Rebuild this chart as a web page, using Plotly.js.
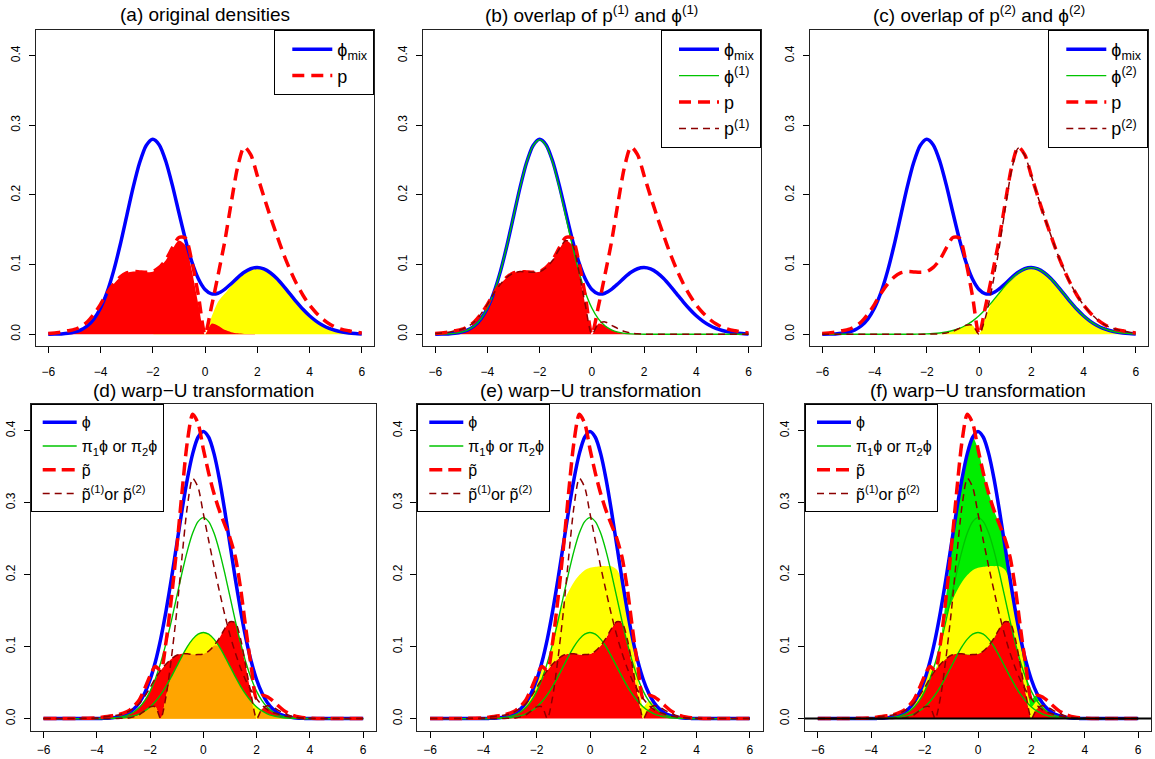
<!DOCTYPE html>
<html><head><meta charset="utf-8">
<script src="https://cdn.plot.ly/plotly-3.0.1.min.js"></script>
<style>body{margin:0;background:#fff;} #chart{width:1155px;height:759px;}</style>
</head><body><div id="chart"></div>
<script>
// ---------- top row data (original space) ----------
const xTop = [-6,-5.75,-5.5,-5.25,-5,-4.75,-4.5,-4.25,-4,-3.75,-3.5,-3.25,-3,-2.75,-2.5,-2.25,-2,-1.75,-1.5,-1.25,-1,-0.75,-0.5,-0.25,0,0.25,0.5,0.75,1,1.25,1.5,1.75,2,2.25,2.5,2.75,3,3.25,3.5,3.75,4,4.25,4.5,4.75,5,5.25,5.5,5.75,6];
const phiMix = [0.0001,0.0003,0.0006,0.0014,0.0031,0.0064,0.0123,0.0222,0.0378,0.0604,0.0907,0.1278,0.1694,0.2108,0.2465,0.2710,0.2799,0.2718,0.2484,0.2141,0.1748,0.1363,0.1037,0.0794,0.0644,0.0581,0.0589,0.0645,0.0726,0.0814,0.0890,0.0941,0.0958,0.0938,0.0884,0.0800,0.0695,0.0581,0.0466,0.0359,0.0266,0.0190,0.0130,0.0085,0.0054,0.0033,0.0019,0.0011,0.0006];
const phi1 = [0.0001,0.0003,0.0006,0.0014,0.0031,0.0064,0.0123,0.0222,0.0378,0.0604,0.0907,0.1278,0.1694,0.2108,0.2465,0.2707,0.2793,0.2707,0.2465,0.2108,0.1694,0.1278,0.0907,0.0604,0.0378,0.0222,0.0123,0.0064,0.0031,0.0014,0.0006,0.0003,0.0001,0,0,0,0,0,0,0,0,0,0,0,0,0,0,0,0];
const phi2 = [0,0,0,0,0,0,0,0,0,0,0,0,0,0,0.0001,0.0003,0.0006,0.0011,0.0019,0.0033,0.0054,0.0085,0.0130,0.0190,0.0266,0.0359,0.0466,0.0581,0.0695,0.0800,0.0884,0.0938,0.0957,0.0938,0.0884,0.0800,0.0695,0.0581,0.0466,0.0359,0.0266,0.0190,0.0130,0.0085,0.0054,0.0033,0.0019,0.0011,0.0006];
const pDens = [0.001,0.002,0.003,0.005,0.007,0.011,0.018,0.029,0.043,0.059,0.072,0.082,0.088,0.090,0.0895,0.089,0.090,0.096,0.107,0.124,0.139,0.138,0.104,0.055,0,0.040,0.085,0.132,0.188,0.240,0.269,0.258,0.228,0.198,0.169,0.142,0.116,0.093,0.073,0.056,0.042,0.031,0.022,0.015,0.010,0.007,0.005,0.003,0.002];
const p1 = [0.001,0.002,0.003,0.005,0.007,0.011,0.018,0.029,0.043,0.059,0.072,0.082,0.088,0.090,0.0895,0.089,0.0898,0.0956,0.1062,0.1221,0.1347,0.1294,0.0910,0.0419,0,0.0153,0.0178,0.0131,0.0081,0.0041,0.0019,0.0007,0.0002,0,0,0,0,0,0,0,0,0,0,0,0,0,0,0,0];
const p2 = [0,0,0,0,0,0,0,0,0,0,0,0,0,0,0,0.0001,0.0002,0.0004,0.0008,0.0019,0.0043,0.0086,0.0130,0.0131,0,0.0247,0.0672,0.1189,0.1799,0.2359,0.2671,0.2572,0.2278,0.198,0.169,0.142,0.116,0.093,0.073,0.056,0.042,0.031,0.022,0.015,0.010,0.007,0.005,0.003,0.002];
const overlap1 = [0.0001,0.0003,0.0006,0.0014,0.0031,0.0064,0.0123,0.0222,0.0378,0.059,0.072,0.082,0.088,0.090,0.0895,0.089,0.0898,0.0956,0.1062,0.1221,0.1347,0.1278,0.0907,0.0419,0,0.0153,0.0123,0.0064,0.0031,0.0014,0.0006,0.0003,0.0001,0,0,0,0,0,0,0,0,0,0,0,0,0,0,0,0];
const overlap2 = [0,0,0,0,0,0,0,0,0,0,0,0,0,0,0,0.0001,0.0002,0.0004,0.0008,0.0019,0.0043,0.0085,0.0130,0.0131,0,0.0247,0.0466,0.0581,0.0695,0.0800,0.0884,0.0938,0.0957,0.0938,0.0884,0.0800,0.0695,0.0581,0.0466,0.0359,0.0266,0.0190,0.0130,0.0085,0.0054,0.0033,0.0019,0.0011,0.0006];

// ---------- bottom row data (warped space) ----------
const xBot = [-6,-5.5,-5,-4.5,-4,-3.8,-3.6,-3.4,-3.2,-3,-2.8,-2.6,-2.4,-2.2,-2,-1.8,-1.6,-1.4,-1.2,-1,-0.8,-0.6,-0.4,-0.2,0,0.2,0.4,0.6,0.8,1,1.2,1.4,1.6,1.8,2,2.2,2.4,2.6,2.8,3,3.2,3.4,3.6,3.8,4,4.5,5,5.5,6];
const phiStd = [0,0,0,0,0.0001,0.0003,0.0006,0.0012,0.0024,0.0044,0.0079,0.0136,0.0224,0.0355,0.0540,0.0790,0.1109,0.1497,0.1942,0.2420,0.2897,0.3332,0.3683,0.3910,0.3989,0.3910,0.3683,0.3332,0.2897,0.2420,0.1942,0.1497,0.1109,0.0790,0.0540,0.0355,0.0224,0.0136,0.0079,0.0044,0.0024,0.0012,0.0006,0.0003,0.0001,0,0,0,0];
const pi1phi = [0,0,0,0,0.0001,0.0002,0.0004,0.0008,0.0017,0.0031,0.0055,0.0095,0.0157,0.0249,0.0378,0.0553,0.0776,0.1048,0.1359,0.1694,0.2028,0.2332,0.2578,0.2737,0.2793,0.2737,0.2578,0.2332,0.2028,0.1694,0.1359,0.1048,0.0776,0.0553,0.0378,0.0249,0.0157,0.0095,0.0055,0.0031,0.0017,0.0008,0.0004,0.0002,0.0001,0,0,0,0];
const pi2phi = [0,0,0,0,0,0.0001,0.0002,0.0004,0.0007,0.0013,0.0024,0.0041,0.0067,0.0107,0.0162,0.0237,0.0333,0.0449,0.0583,0.0726,0.0869,0.1000,0.1105,0.1173,0.1197,0.1173,0.1105,0.1000,0.0869,0.0726,0.0583,0.0449,0.0333,0.0237,0.0162,0.0107,0.0067,0.0041,0.0024,0.0013,0.0007,0.0004,0.0002,0.0001,0,0,0,0,0];
const pTilde = [0,0,0.0001,0.0004,0.001,0.002,0.003,0.0041,0.0053,0.0075,0.011,0.0174,0.0264,0.0418,0.0593,0.0724,0.067,0.1069,0.167,0.2366,0.3149,0.3849,0.4229,0.4105,0.3746,0.3412,0.3127,0.2893,0.2698,0.251,0.2246,0.1804,0.1236,0.0709,0.0275,0.0323,0.0304,0.025,0.0182,0.0119,0.0074,0.0042,0.0023,0.0011,0.0006,0.0001,0,0,0];
const pTilde1 = [0,0,0.0001,0.0004,0.001,0.002,0.003,0.004,0.005,0.007,0.010,0.015,0.021,0.031,0.043,0.056,0.067,0.076,0.083,0.088,0.090,0.090,0.089,0.089,0.0898,0.0937,0.1014,0.1118,0.1248,0.1347,0.1333,0.1104,0.0711,0.0321,0,0.0135,0.0179,0.0162,0.0119,0.0081,0.0049,0.0026,0.0013,0.0005,0.0002,0,0,0,0];
const pTilde2 = [0,0,0,0,0,0,0,0.0001,0.0003,0.0005,0.0010,0.0024,0.0054,0.0108,0.0163,0.0164,0,0.0309,0.0840,0.1486,0.2249,0.2949,0.3339,0.3215,0.2848,0.2475,0.2113,0.1775,0.1450,0.1163,0.0913,0.0700,0.0525,0.0388,0.0275,0.0188,0.0125,0.0088,0.0063,0.0038,0.0025,0.0016,0.0010,0.0006,0.0004,0.0001,0,0,0];
const warpOverlap1 = [0,0,0,0,0.0001,0.0002,0.0004,0.0008,0.0017,0.0031,0.0055,0.0095,0.0157,0.0249,0.0378,0.0553,0.067,0.076,0.083,0.088,0.090,0.090,0.089,0.089,0.0898,0.0937,0.1014,0.1118,0.1248,0.1347,0.1333,0.1048,0.0711,0.0321,0,0.0135,0.0157,0.0095,0.0055,0.0031,0.0017,0.0008,0.0004,0.0002,0.0001,0,0,0,0];
const warpOverlap2 = [0,0,0,0,0,0,0,0.0001,0.0003,0.0005,0.0010,0.0024,0.0054,0.0107,0.0162,0.0164,0,0.0309,0.0583,0.0726,0.0869,0.1000,0.1105,0.1173,0.1197,0.1173,0.1105,0.1000,0.0869,0.0726,0.0583,0.0449,0.0333,0.0237,0.0162,0.0107,0.0067,0.0041,0.0024,0.0013,0.0007,0.0004,0.0002,0.0001,0,0,0,0,0];
const warpOverlapBoth = [0,0,0,0,0,0,0,0.0001,0.0003,0.0005,0.0010,0.0024,0.0054,0.0107,0.0162,0.0164,0,0.0309,0.0583,0.0726,0.0869,0.0900,0.0890,0.0890,0.0898,0.0937,0.1014,0.1000,0.0869,0.0726,0.0583,0.0449,0.0333,0.0237,0,0.0107,0.0067,0.0041,0.0024,0.0013,0.0007,0.0004,0.0002,0.0001,0,0,0,0,0];
const overlapTotal = [0,0,0,0,0.0001,0.0003,0.0006,0.0012,0.0024,0.0044,0.0079,0.0136,0.0224,0.0355,0.0540,0.0724,0.067,0.1069,0.167,0.2366,0.2897,0.3332,0.3683,0.3910,0.3746,0.3412,0.3127,0.2893,0.2698,0.2420,0.1942,0.1497,0.1109,0.0709,0.0275,0.0323,0.0224,0.0136,0.0079,0.0044,0.0024,0.0012,0.0006,0.0003,0.0001,0,0,0,0];

const titles = ['(a) original densities','(b) overlap of p<sup>(1)</sup> and ϕ<sup>(1)</sup>','(c) overlap of p<sup>(2)</sup> and ϕ<sup>(2)</sup>','(d) warp−U transformation','(e) warp−U transformation','(f) warp−U transformation'];
const xTicks = [-6,-4,-2,0,2,4,6];
const yTicks = [0,0.1,0.2,0.3,0.4];
const yTickText = ['0.0','0.1','0.2','0.3','0.4'];

// ---------- styling ----------
const FONT = 'Liberation Sans, Arial, Helvetica, sans-serif';
const BLUE='#0000FF', RED='#FF0000', GREEN='#00C400', DRED='#8B0000', YEL='#FFFF00', ORA='#FFA500', GFILL='#00EE00';
const SM = 0.75;

function ln(x,y,k,color,width,dash,name,show){
  return {type:'scatter',mode:'lines',x:x,y:y,xaxis:'x'+(k===1?'':k),yaxis:'y'+(k===1?'':k),
    line:{color:color,width:width,dash:dash||'solid',shape:'spline',smoothing:SM},
    name:name||' ',legend:k===1?'legend':'legend'+k,showlegend:!!show,hoverinfo:'skip'};
}
function fl(x,y,k,color){
  return {type:'scatter',mode:'lines',x:x,y:y,xaxis:'x'+(k===1?'':k),yaxis:'y'+(k===1?'':k),
    fill:'tozeroy',fillcolor:color,line:{width:0,shape:'spline',smoothing:SM},showlegend:false,hoverinfo:'skip'};
}
function st(x,y,k,color,grp){
  return {type:'scatter',mode:'lines',x:x,y:y,xaxis:'x'+k,yaxis:'y'+k,stackgroup:grp,
    fillcolor:color,line:{width:0,shape:'spline',smoothing:SM},showlegend:false,hoverinfo:'skip'};
}
const PD='12px,7px', PT='13px,6px', DD='7px,5px';
const traces = [
  // (a)
  fl(xTop,overlap2,1,YEL), fl(xTop,overlap1,1,RED),
  ln(xTop,phiMix,1,BLUE,3.5,null,'ϕ<sub>mix</sub>',true),
  ln(xTop,pDens,1,RED,3.5,PD,'p',true),
  // (b)
  fl(xTop,overlap1,2,RED),
  ln(xTop,phiMix,2,BLUE,3.5,null,'ϕ<sub>mix</sub>',true),
  ln(xTop,phi1,2,GREEN,1.4,null,'ϕ<sup>(1)</sup>',true),
  ln(xTop,pDens,2,RED,3.5,PD,'p',true),
  ln(xTop,p1,2,DRED,1.5,DD,'p<sup>(1)</sup>',true),
  // (c)
  fl(xTop,overlap2,3,YEL),
  ln(xTop,phiMix,3,BLUE,3.5,null,'ϕ<sub>mix</sub>',true),
  ln(xTop,phi2,3,GREEN,1.4,null,'ϕ<sup>(2)</sup>',true),
  ln(xTop,pDens,3,RED,3.5,PD,'p',true),
  ln(xTop,p2,3,DRED,1.5,DD,'p<sup>(2)</sup>',true),
];
function lowerLines(k){
  return [
    ln(xBot,phiStd,k,BLUE,3.5,null,'ϕ',true),
    ln(xBot,pi1phi,k,GREEN,1.4,null,'π<sub>1</sub>ϕ or π<sub>2</sub>ϕ',true),
    ln(xBot,pi2phi,k,GREEN,1.4,null,null,false),
    ln(xBot,pTilde,k,RED,3.5,PT,'p̃',true),
    ln(xBot,pTilde1,k,DRED,1.5,DD,'p̃<sup>(1)</sup>or p̃<sup>(2)</sup>',true),
    ln(xBot,pTilde2,k,DRED,1.5,DD,null,false)
  ];
}
// (d)
traces.push(fl(xBot,warpOverlap1,4,RED), fl(xBot,warpOverlap2,4,YEL), fl(xBot,warpOverlapBoth,4,ORA));
traces.push(...lowerLines(4));
// (e)
traces.push(st(xBot,warpOverlap1,5,RED,'s5'), st(xBot,warpOverlap2,5,YEL,'s5'));
traces.push(...lowerLines(5));
// (f)
traces.push(fl(xBot,overlapTotal,6,GFILL));
traces.push(st(xBot,warpOverlap1,6,RED,'s6'), st(xBot,warpOverlap2,6,YEL,'s6'));
traces.push(...lowerLines(6));

const W=1155,H=759;
const xDom = [[35.7,374.3],[422.7,761],[809.7,1148.3],[30.7,376],[417.3,762.7],[805,1151]].map(d=>[d[0]/W,d[1]/W]);
const yDom = [[30,346],[30,346],[30,346],[404.3,730.7],[404.3,730.7],[404.3,730.7]].map(d=>[1-d[1]/H,1-d[0]/H]);

const layout = {width:W,height:H,margin:{l:0,r:0,t:0,b:0},paper_bgcolor:'#fff',plot_bgcolor:'#fff',
  font:{family:FONT,color:'#000'},showlegend:true,annotations:[],shapes:[]};
for(let k=1;k<=6;k++){
  const s = k===1?'':k;
  const top = k<=3;
  layout['xaxis'+s] = {domain:xDom[k-1],anchor:'y'+s,range:[-6.48,6.48],tickvals:xTicks,ticks:'outside',ticklen:6,
    tickcolor:'#000',tickwidth:1,showline:true,mirror:true,linecolor:'#222',linewidth:1,showgrid:false,zeroline:false,
    tickfont:{size:12,family:FONT,color:'#000'},ticklabelstandoff: top? 9 : 2,fixedrange:true};
  layout['yaxis'+s] = {domain:yDom[k-1],anchor:'x'+s,range:[-0.0168,0.4368],tickvals:yTicks,ticktext:yTickText,ticks:'outside',ticklen:6,
    tickcolor:'#000',tickwidth:1,showline:true,mirror:true,linecolor:'#222',linewidth:1,showgrid:false,zeroline:false,
    tickangle:-90,tickfont:{size:12,family:FONT,color:'#000'},ticklabelstandoff:4,fixedrange:true};
  const d = xDom[k-1];
  layout['legend'+s] = {x: top? d[1] : d[0], xanchor: top?'right':'left', y: yDom[k-1][1], yanchor:'top',
    bgcolor:'#fff', bordercolor:'#000', borderwidth:1, font:{size: top? 18 : 16,family:FONT,color:'#000'}, traceorder:'normal',
    indentation: top? 12 : 6, itemwidth: top? 40 : 34,
    itemclick:false, itemdoubleclick:false};
  layout.annotations.push({text:titles[k-1],xref:'paper',yref:'paper',x:(d[0]+d[1])/2,
    y: top? 1-14/H : 1-390/H, xanchor:'center',yanchor:'middle',showarrow:false,font:{size:19,family:FONT,color:'#000'}});
}
layout.shapes.push({type:'line',xref:'x6 domain',yref:'y6',x0:0,x1:1,y0:0,y1:0,line:{color:'#000',width:2}});

Plotly.newPlot('chart',traces,layout,{displayModeBar:false,staticPlot:true});
</script>
</body></html>
